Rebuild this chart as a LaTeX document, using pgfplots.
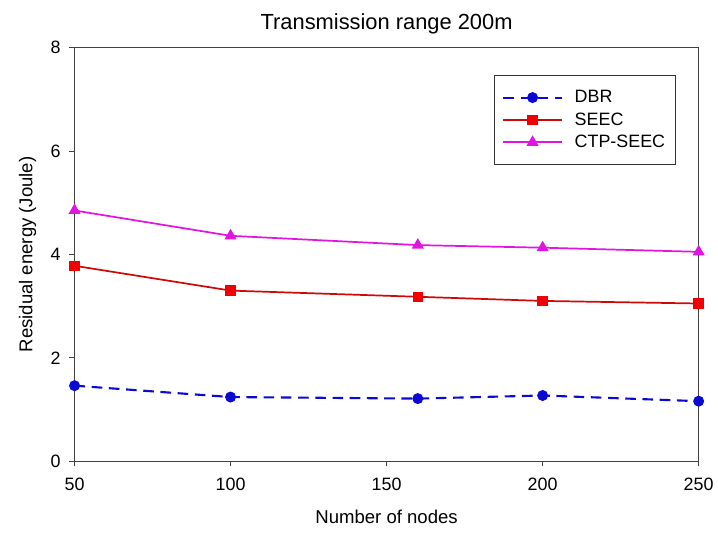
\documentclass[border=0pt]{standalone}
\usepackage{pgfplots}
\pgfplotsset{compat=1.18}
\usepackage{fontspec}
\setmainfont{Liberation Sans}
\definecolor{dbr}{RGB}{10,10,210}
\definecolor{seecl}{RGB}{205,10,10}
\definecolor{seecm}{RGB}{240,0,0}
\definecolor{ctp}{RGB}{225,20,225}
\begin{document}
\begin{tikzpicture}
\begin{axis}[
  width=471pt, height=312pt, scale only axis,
  xmin=50, xmax=250, ymin=0, ymax=8,
  xtick={50,100,150,200,250}, ytick={0,2,4,6,8},
  tick align=outside, tick pos=left,
  major tick length=4pt,
  axis line style={black!75, line width=0.8pt},
  tick style={black!75, line width=0.8pt},
  /pgf/number format/assume math mode=true,
  ticklabel style={font=\fontsize{13.5}{15}\selectfont},
  xticklabel style={yshift=-5pt},
  yticklabel style={xshift=-3pt},
  xlabel={Number of nodes},
  ylabel={Residual energy (Joule)},
  label style={font=\fontsize{14}{16}\selectfont},
  xlabel style={yshift=-8pt},
  ylabel style={yshift=4pt},
  title={Transmission range 200m},
  title style={font=\fontsize{16.5}{19}\selectfont, yshift=1pt},
  legend style={at={(0.672,0.933)}, anchor=north west, draw=black!80, line width=0.7pt,
    font=\fontsize{13.5}{15}\selectfont, inner xsep=6pt, inner ysep=9pt, row sep=2pt},
  legend cell align=left,
  legend image code/.code={\draw[#1] (0pt,0pt) -- (44pt,0pt); \draw[#1, solid] plot coordinates {(22pt,0pt)};},
  every legend entry/.append style={xshift=0pt},
]
\addplot[dbr, line width=1.6pt, dash pattern=on 8pt off 5pt, mark=*, mark size=3.3pt, mark options={solid, fill=dbr}]
  coordinates {(50,1.46) (100,1.24) (160,1.21) (200,1.27) (250,1.16)};
\addlegendentry{\hspace{7pt}DBR}
\addplot[seecl, line width=1.3pt, mark=square*, mark size=3.3pt, mark options={solid, fill=seecm, draw=seecm}]
  coordinates {(50,3.78) (100,3.30) (160,3.18) (200,3.10) (250,3.05)};
\addlegendentry{\hspace{7pt}SEEC}
\addplot[ctp, line width=1.3pt, mark=triangle*, mark size=4pt, mark options={solid, fill=ctp}]
  coordinates {(50,4.85) (100,4.36) (160,4.18) (200,4.13) (250,4.05)};
\addlegendentry{\hspace{7pt}CTP-SEEC}
\end{axis}
\path (current axis.south west) ++(-56.25pt,-54.75pt) coordinate (bl);
\path (current axis.north east) ++(11.25pt,36pt) coordinate (tr);
\path[use as bounding box] (bl) rectangle (tr);
\end{tikzpicture}
\end{document}
